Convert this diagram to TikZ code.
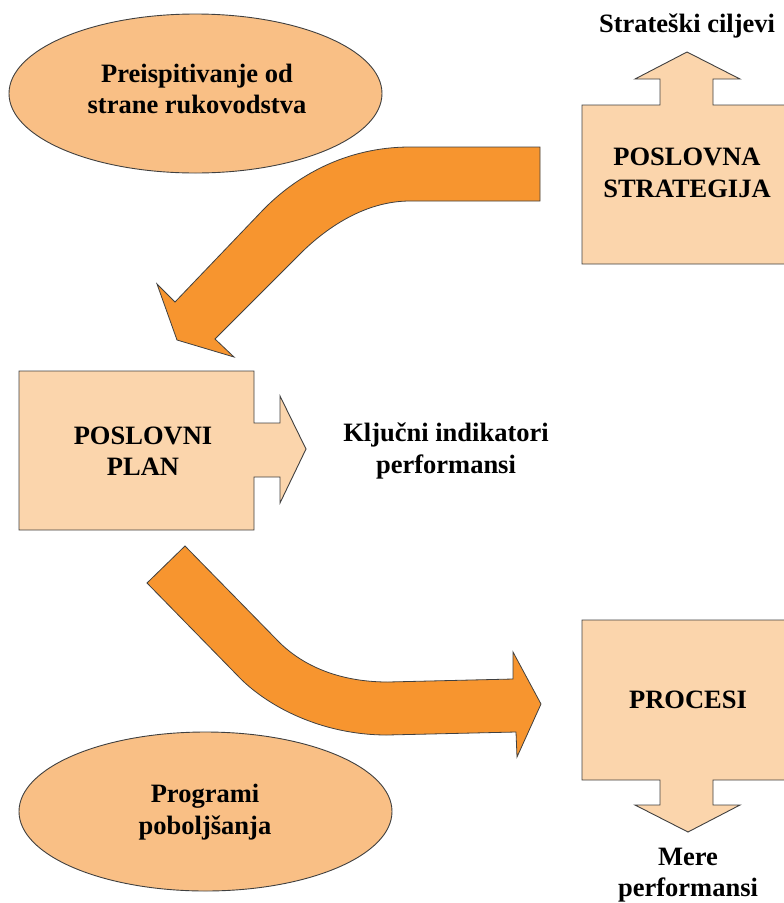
\documentclass[tikz,border=0pt]{standalone}
\usepackage{fontspec}
\setmainfont{Liberation Serif}
\usetikzlibrary{shapes.geometric}
\definecolor{boxfill}{HTML}{FBD5AC}
\definecolor{ellfill}{HTML}{F9BF85}
\definecolor{arrfill}{HTML}{F7952F}
\definecolor{edge}{HTML}{404040}
\begin{document}
\begin{tikzpicture}[x=1pt,y=-1pt,
  txt/.style={font=\fontsize{26.5}{31.5}\selectfont\bfseries, align=center, inner sep=0pt},
  boxshape/.style={fill=boxfill, draw=edge, line width=0.9pt, line join=miter},
  ellnode/.style={ellipse, fill=ellfill, draw=edge, line width=0.9pt, minimum width=373pt, minimum height=159pt, inner sep=0pt},
  bigarrow/.style={fill=arrfill, draw=edge, line width=0.8pt, line join=miter}]
\useasboundingbox (0,0) rectangle (784,903);
\clip (0,0) rectangle (784,903);

% ellipses
\node[ellnode] (rev) at (195.5,93.5) {};
\node[txt] (revt) at (197,89) {Preispitivanje od\\strane rukovodstva};
\node[ellnode] (prog) at (205.5,811.5) {};
\node[txt] (progt) at (205,812) {Programi\\poboljšanja};

% top-right box with up arrow
\draw[boxshape] (582,264) -- (582,105) -- (660,105) -- (660,79) -- (635,79) -- (687,52)
  -- (740,79) -- (713,79) -- (713,105) -- (792,105) -- (792,264) -- cycle;
\node[txt] (strat) at (687,173) {POSLOVNA\\STRATEGIJA};
\node[txt] (ciljevi) at (687,26) {Strateški ciljevi};

% left box with right arrow
\draw[boxshape] (19,371) -- (254,371) -- (254,423) -- (280,423) -- (280,396) -- (306,449)
  -- (280,503) -- (280,477) -- (254,477) -- (254,530) -- (19,530) -- cycle;
\node[txt] (plan) at (143,451) {POSLOVNI\\PLAN};
\node[txt] (kpi) at (446,451) {Ključni indikatori\\performansi};

% bottom-right box with down arrow
\draw[boxshape] (582,620) -- (792,620) -- (792,780) -- (713,780) -- (713,805) -- (740,805)
  -- (688,832) -- (635,805) -- (660,805) -- (660,780) -- (582,780) -- cycle;
\node[txt] (proc) at (688,700) {PROCESI};
\node[txt] (mere) at (688,875) {Mere\\performansi};

% curved arrow 1 (strategy -> plan)
\draw[bigarrow] (540,147) -- (410,147) .. controls (345,147) and (295,177) .. (263,210)
  -- (175,302) -- (157,284) -- (177,340) -- (234,357) -- (215,339) -- (297,257)
  .. controls (325,228) and (365,201) .. (410,201) -- (540,201) -- cycle;

% curved arrow 2 (plan -> processes)
\draw[bigarrow] (185,546) -- (280,643) .. controls (310,672) and (350,682) .. (388,682)
  -- (513,679) -- (513,652) -- (541,704) -- (517,757) -- (516,732) -- (387,735)
  .. controls (320,735) and (265,705) .. (237,675) -- (147,583) -- cycle;
\end{tikzpicture}
\end{document}
